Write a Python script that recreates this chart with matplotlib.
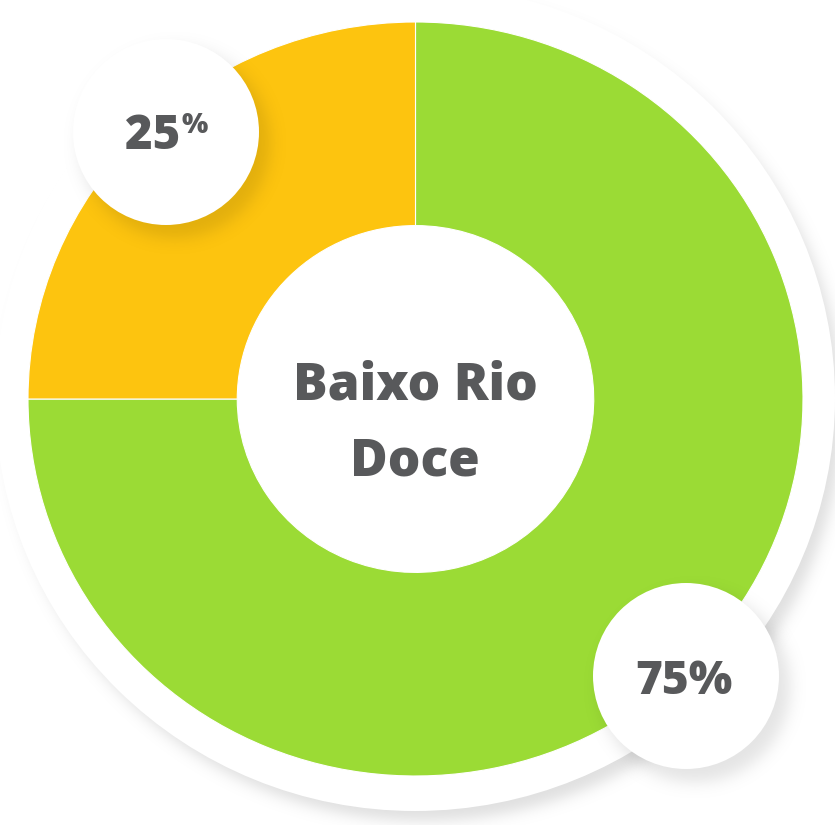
import numpy as np
import matplotlib
matplotlib.use("Agg")
import matplotlib.pyplot as plt
from matplotlib.patches import Circle, Ellipse

# --- data -------------------------------------------------------------
region_lines = ["Baixo Rio", "Doce"]
shares = [75, 25]
share_colors = ["#9BDB35", "#FDC40F"]
label_texts = [f"{v}%" for v in shares]

TEXT_COLOR = "#58595B"
FONT = ["Open Sans", "DejaVu Sans"]

W, H, DPI = 835, 825, 100
fig = plt.figure(figsize=(W / DPI, H / DPI), dpi=DPI)
fig.patch.set_facecolor("white")

yy, xx = np.mgrid[0:H, 0:W] + 0.5


def soft_ellipse(cx, cy, rx, ry, blur):
    r = np.sqrt(((xx - cx) / rx) ** 2 + ((yy - cy) / ry) ** 2)
    d = (1.0 - r) * (rx + ry) / 2.0
    return 0.5 * (1.0 + np.tanh(d / blur))


def shadow_rgba(alpha):
    img = np.zeros((H, W, 4))
    img[..., 3] = np.clip(alpha, 0, 1)
    return img


# --- background plate with its drop shadow -----------------------------
bg = fig.add_axes([0, 0, 1, 1], zorder=0)
bg.axis("off")
plate_shadow = 0.13 * soft_ellipse(424, 410, 418, 411, 9)
bg.imshow(shadow_rgba(plate_shadow), extent=(0, W, H, 0), interpolation="bilinear", zorder=1)
bg.add_patch(Ellipse((415, 398), 2 * 420, 2 * 413, facecolor="white", edgecolor="none", zorder=2))
bg.set_xlim(0, W)
bg.set_ylim(H, 0)

# --- donut ---------------------------------------------------------------
left, right, top, bottom = 28, 803, 22, 776
pie_ax = fig.add_axes([left / W, (H - bottom) / H, (right - left) / W, (bottom - top) / H], zorder=1)
pie_ax.patch.set_alpha(0)
pie_ax.pie(shares, colors=share_colors, startangle=90, counterclock=False, radius=1.0,
           wedgeprops=dict(width=0.54, edgecolor="white", linewidth=0.8))
pie_ax.set_aspect("auto")
pie_ax.set_xlim(-1, 1)
pie_ax.set_ylim(-1, 1)
pie_ax.axis("off")

# --- label bubbles and text ------------------------------------------------
ov = fig.add_axes([0, 0, 1, 1], zorder=2)
ov.patch.set_alpha(0)
ov.axis("off")

bubbles = [(686, 676, 93), (166, 132, 93)]
bubble_shadow = np.zeros((H, W))
for cx, cy, r in bubbles:
    a = 0.11 * soft_ellipse(cx + 9, cy + 11, r + 2, r + 2, 10)
    bubble_shadow = 1 - (1 - bubble_shadow) * (1 - a)
ov.imshow(shadow_rgba(bubble_shadow), extent=(0, W, H, 0), interpolation="bilinear", zorder=1)
for cx, cy, r in bubbles:
    ov.add_patch(Circle((cx, cy), r, facecolor="white", edgecolor="none", zorder=2))
ov.set_xlim(0, W)
ov.set_ylim(H, 0)

# 75% label
ov.text(684, 694, label_texts[0], ha="center", va="baseline", fontsize=33,
        fontweight=800, color=TEXT_COLOR, family=FONT, zorder=3)
# 25% label with a small raised percent sign
num, pct = label_texts[1][:-1], label_texts[1][-1]
ov.text(180, 149, num, ha="right", va="baseline", fontsize=34,
        fontweight=800, color=TEXT_COLOR, family=FONT, zorder=3)
ov.text(181, 133, pct, ha="left", va="baseline", fontsize=20,
        fontweight=800, color=TEXT_COLOR, family=FONT, zorder=3)

# centre caption
for line, base in zip(region_lines, [399, 476]):
    ov.text(415, base, line, ha="center", va="baseline", fontsize=37,
            fontweight=800, color=TEXT_COLOR, family=FONT, zorder=3)

fig.savefig("out.png", dpi=DPI, facecolor="white")
